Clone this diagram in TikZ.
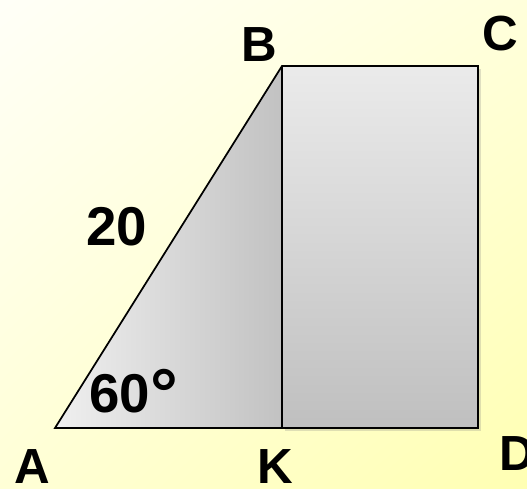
\documentclass[tikz,border=0pt]{standalone}
\usepackage{fontspec}
\setmainfont{Liberation Sans}
\usetikzlibrary{shadows,shadings}

\begin{document}
\begin{tikzpicture}[x=0.75pt,y=-0.75pt,
  lbl/.style={inner sep=0pt,font=\fontsize{37}{37}\selectfont\bfseries},
  num/.style={inner sep=0pt,font=\fontsize{41}{41}\selectfont\bfseries},
  edge/.style={draw=black,line width=1.3pt,line join=miter}]

\useasboundingbox (0,0) rectangle (527,488);
\shade[upper left=yellow!3,upper right=yellow!14,lower left=yellow!16,lower right=yellow!30]
  (0,0) rectangle (527,488);

\coordinate (A) at (55,428);
\coordinate (B) at (282,66);
\coordinate (C) at (478,66);
\coordinate (D) at (478,428);
\coordinate (K) at (282,428);

% rectangle KBCD
\shade[top color=gray!16,bottom color=gray!50,
  drop shadow={opacity=0.25,shadow xshift=2pt,shadow yshift=-2pt}]
  (B) rectangle (D);
% triangle ABK
\shade[left color=gray!12,right color=gray!48] (A)--(B)--(K)--cycle;
\draw[edge] (A)--(B)--(C)--(D)--cycle;
\draw[edge] (B)--(K);

\node[lbl] (a) at (32,467) {A};
\node[lbl] (b) at (259,45) {B};
\node[lbl] (c) at (500,34) {C};
\node[lbl] (d) at (517,454) {D};
\node[lbl] (k) at (275,467) {K};
\node[num] (ab) at (117,227) {20};
\node[num,anchor=base west] (ang) at (89,412)
  {60\raisebox{-4pt}{\fontsize{52}{52}\selectfont °}};

\end{tikzpicture}
\end{document}
